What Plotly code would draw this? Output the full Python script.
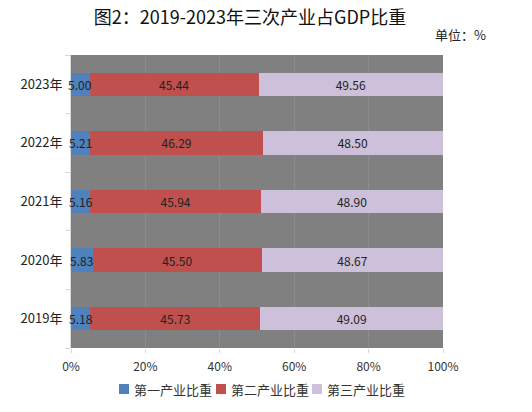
import plotly.graph_objects as go

# data
years = ["2019年", "2020年", "2021年", "2022年", "2023年"]
primary = [5.18, 5.83, 5.16, 5.21, 5.00]
secondary = [45.73, 45.50, 45.94, 46.29, 45.44]
tertiary = [49.09, 48.67, 48.90, 48.50, 49.56]

series = [
    ("第一产业比重", primary, "#4F81BD"),
    ("第二产业比重", secondary, "#C0504D"),
    ("第三产业比重", tertiary, "#CCC0DA"),
]

font_family = "Noto Sans CJK SC"
label_font = dict(family=font_family, size=12, color="#222222")

fig = go.Figure()
for i, (name, vals, color) in enumerate(series):
    fig.add_trace(go.Bar(
        y=years, x=vals, name=name, orientation="h",
        marker=dict(color=color, line=dict(width=0)),
        text=None if i == 0 else [f"{v:.2f}" for v in vals],
        textposition="inside", insidetextanchor="middle",
        constraintext="none", textangle=0,
        textfont=label_font,
        hoverinfo="skip",
    ))

# labels of the thin first segment spill over its edges, so put them on top
for yr, v in zip(years, primary):
    fig.add_annotation(x=v / 2, y=yr, text=f"{v:.2f}", showarrow=False,
                       xanchor="center", yanchor="middle", font=label_font)

fig.update_layout(
    barmode="stack",
    bargap=0.6,
    width=532, height=412,
    margin=dict(l=71, r=89, t=55, b=64),
    paper_bgcolor="white",
    plot_bgcolor="#808080",
    font=dict(family=font_family, size=12, color="#333333"),
    title=dict(text="图2：2019-2023年三次产业占GDP比重", x=0.47, xanchor="center",
               y=0.956, yanchor="middle",
               font=dict(family=font_family, size=18, color="#111111")),
    showlegend=False,
)

fig.update_xaxes(range=[0, 100], dtick=20, ticksuffix="%", showgrid=True,
                 gridcolor="#8c8c8c", gridwidth=1, zeroline=False,
                 showline=False, ticks="outside", ticklen=4, tickcolor="#d9d9d9",
                 ticklabelstandoff=4, tickfont=dict(size=12, color="#333333"))
fig.update_yaxes(categoryorder="array", categoryarray=years, showgrid=False,
                 showline=True, linecolor="#d9d9d9", linewidth=1,
                 ticks="outside", ticklen=5, tickcolor="#d9d9d9",
                 tickson="boundaries", ticklabelstandoff=5,
                 tickfont=dict(size=13, color="#222222"))

# legend drawn by hand: small squares tight against their text
plot_left, plot_w, plot_bottom, plot_h = 71, 372, 348, 293
legend_x = [119, 216, 312]
for (name, vals, color), px in zip(series, legend_x):
    fig.add_shape(type="rect", xref="paper", yref="paper",
                  x0=(px - plot_left) / plot_w, x1=(px + 10 - plot_left) / plot_w,
                  y0=(plot_bottom - 394) / plot_h, y1=(plot_bottom - 384) / plot_h,
                  fillcolor=color, line=dict(width=0))
    fig.add_annotation(text=name, xref="paper", yref="paper",
                       x=(px + 13 - plot_left) / plot_w, y=(plot_bottom - 389) / plot_h,
                       xanchor="left", yanchor="middle", showarrow=False,
                       font=dict(family=font_family, size=13, color="#333333"))

fig.add_annotation(text="单位：%", xref="paper", yref="paper", x=1.12, y=1.07,
                   xanchor="right", yanchor="middle", showarrow=False,
                   font=dict(family=font_family, size=13, color="#222222"))

fig.write_html("out.html", config={"displayModeBar": False},
               post_script="document.body.style.margin='0';")
